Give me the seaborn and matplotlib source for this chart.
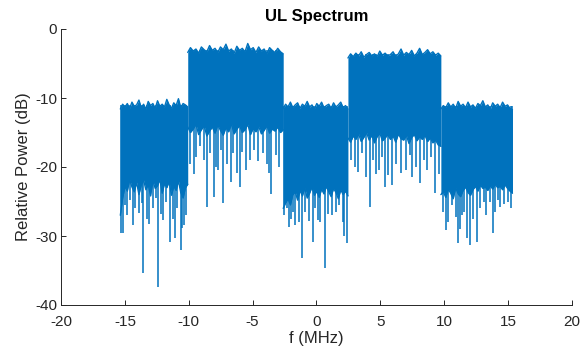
import numpy as np
import pandas as pd
import matplotlib
matplotlib.use("Agg")
import matplotlib.pyplot as plt
import seaborn as sns

# ---- data ----
band_edges = [-15.36, -10.08, -2.60, 2.47, 9.75, 15.36]   # MHz

top_A = [-11.6,-10.9,-11.3,-10.8,-11.5,-10.6,-11.2,-11.0,-10.3,-11.4,-10.9,-11.6,-10.5,-11.1,-10.8,
         -11.5,-10.4,-11.2,-10.9,-11.3,-10.2,-11.0,-11.5,-10.7,-11.1,-10.1,-11.4,-10.8,-11.0,-11.3]
bot_A = [-27.0,-24.5,-22.8,-23.5,-21.8,-22.9,-23.6,-22.2,-24.0,-22.6,-21.9,-23.3,-22.5,-24.2,-22.0,
         -23.1,-22.7,-21.8,-23.8,-22.4,-23.0,-22.1,-24.1,-22.8,-23.4,-22.0,-23.7,-24.5,-23.0,-22.5]

top_B = [-3.4,-2.7,-3.2,-2.9,-3.5,-2.6,-3.0,-3.3,-2.4,-3.1,-2.8,-3.4,-2.6,-3.0,-2.2,-3.2,-2.9,-3.5,
         -2.5,-3.1,-2.8,-3.3,-2.1,-3.0,-2.7,-3.4,-2.6,-3.2,-2.9,-3.6,-2.7,-3.1,-3.4,-2.8,-3.3,-3.6]
bot_B = [-14.2,-15.0,-14.5,-13.8,-15.3,-14.6,-14.0,-15.5,-14.8,-14.2,-15.1,-13.9,-14.7,-15.4,-14.3,-14.9,-13.7,-15.2,
         -14.5,-14.0,-15.0,-14.6,-13.8,-15.3,-14.4,-14.9,-14.1,-15.2,-14.7,-14.0,-15.1,-14.5,-14.8,-14.2,-15.0,-14.6]

top_C = [-11.5,-10.9,-11.3,-10.6,-11.4,-11.0,-10.7,-11.5,-10.9,-11.2,-10.5,-11.3,-11.0,-11.6,
         -10.8,-11.2,-10.6,-11.4,-11.1,-10.9,-11.5,-10.7,-11.3,-11.0,-10.6,-11.4,-11.1,-11.6]
bot_C = [-26.0,-25.2,-24.6,-25.5,-24.0,-23.6,-24.8,-23.4,-24.2,-23.0,-24.5,-23.8,-22.9,-24.1,
         -23.5,-24.4,-23.2,-23.9,-22.8,-23.6,-24.3,-23.1,-23.7,-24.6,-23.3,-24.0,-23.5,-24.2]

top_D = [-4.2,-3.6,-4.0,-3.5,-3.9,-3.3,-4.1,-3.7,-3.4,-3.9,-3.6,-4.0,-3.2,-3.8,-3.5,-3.9,-3.7,-3.3,
         -4.0,-3.6,-2.9,-3.8,-3.4,-3.7,-3.1,-3.9,-3.5,-2.8,-3.7,-3.4,-3.0,-3.6,-3.3,-3.8,-3.5,-3.9]
bot_D = [-15.8,-16.4,-15.5,-16.0,-15.2,-16.3,-15.7,-15.0,-16.1,-15.4,-16.5,-15.6,-15.1,-16.2,-15.8,-15.3,-16.0,-15.5,
         -16.4,-15.2,-15.9,-16.1,-15.4,-16.6,-15.7,-15.3,-16.2,-15.6,-16.0,-15.4,-16.3,-15.8,-16.5,-16.1,-16.8,-17.0]

top_E = [-11.6,-11.1,-11.4,-10.7,-11.3,-10.9,-11.5,-10.5,-11.2,-10.9,-11.4,-10.6,-11.3,-11.0,-11.5,
         -10.8,-11.1,-10.4,-11.3,-11.0,-11.6,-10.7,-11.2,-10.9,-11.4,-10.6,-11.2,-11.0,-11.5,-11.7]
bot_E = [-24.0,-23.6,-24.4,-23.2,-23.8,-24.6,-23.0,-23.9,-24.3,-23.4,-22.9,-23.7,-24.1,-23.3,-22.8,
         -23.5,-22.6,-23.1,-22.9,-23.4,-22.7,-23.2,-22.5,-23.0,-22.8,-23.3,-22.6,-23.1,-23.5,-23.8]

tops = [top_A, top_B, top_C, top_D, top_E]
bots = [bot_A, bot_B, bot_C, bot_D, bot_E]

# spectral nulls (dips below the dense band): frequency (MHz), level (dB)
dip_f = [-15.30,-15.18,-15.00,-14.80,-14.60,-14.39,-14.20,-13.88,-13.70,-13.56,-13.30,-13.09,-12.80,-12.60,
         -12.44,-12.20,-12.00,-11.80,-11.47,-11.20,-11.08,-10.90,-10.61,-10.50,-10.38,-10.20,
         -9.90,-9.60,-9.40,-9.10,-8.80,-8.55,-8.30,-8.03,-7.90,-7.71,-7.50,-7.32,-7.00,-6.72,-6.50,-6.20,
         -6.01,-5.80,-5.50,-5.20,-4.90,-4.60,-4.20,-3.90,-3.74,-3.54,-3.20,-2.90,
         -2.50,-2.30,-2.18,-2.00,-1.80,-1.68,-1.40,-1.14,-0.90,-0.60,-0.30,-0.10,0.09,0.30,0.67,0.90,
         1.20,1.53,1.80,2.05,2.20,2.39,
         2.70,3.00,3.25,3.60,3.90,4.21,4.40,4.64,4.90,5.10,5.34,5.60,5.94,6.20,6.60,7.03,7.30,7.50,
         7.77,8.13,8.40,8.70,9.00,9.33,9.60,
         9.90,10.12,10.30,10.60,10.90,11.08,11.25,11.42,11.60,11.81,12.02,12.30,12.55,12.80,13.12,
         13.30,13.60,13.84,14.00,14.20,14.42,14.70,15.00,15.25,15.30]
dip_db = [-29.5,-29.6,-25.5,-27.0,-24.8,-28.4,-26.0,-26.7,-25.2,-35.4,-27.5,-28.2,-26.0,-24.5,
          -37.4,-26.8,-27.7,-25.0,-30.9,-27.5,-30.3,-26.0,-32.0,-28.8,-28.4,-27.0,
          -19.5,-21.0,-18.5,-17.0,-19.0,-25.8,-18.0,-24.3,-20.0,-20.4,-17.5,-25.2,-19.5,-22.2,-18.0,-20.8,
          -22.9,-17.8,-20.4,-19.0,-17.5,-19.2,-18.0,-19.5,-20.9,-23.9,-18.2,-20.0,
          -27.0,-26.0,-28.7,-27.5,-26.5,-28.4,-28.0,-33.2,-26.5,-27.8,-30.9,-26.0,-27.7,-28.0,-34.6,-26.8,
          -27.0,-26.5,-25.5,-28.0,-30.0,-31.0,
          -19.0,-20.0,-20.7,-18.0,-21.5,-25.8,-19.0,-21.0,-20.5,-18.5,-22.9,-21.2,-22.6,-19.5,-20.8,-20.4,
          -18.2,-21.5,-20.0,-22.3,-19.0,-20.5,-18.5,-23.8,-21.0,
          -26.5,-29.1,-28.0,-25.5,-27.2,-31.0,-29.0,-27.0,-26.5,-30.3,-31.3,-27.5,-30.9,-26.0,-25.1,
          -27.0,-25.0,-29.6,-26.5,-24.8,-25.8,-25.3,-25.0,-25.9,-23.8]

x_ticks = [-20, -15, -10, -5, 0, 5, 10, 15, 20]
y_ticks = [-40, -30, -20, -10, 0]

# ---- styling ----
sns.set_theme(style="ticks")
plt.rcParams["font.family"] = ["Liberation Sans", "DejaVu Sans"]
blue = "#0072BD"
dark = "#262626"

fig = plt.figure(figsize=(5.81, 3.54), dpi=100)
ax = fig.add_axes([61.1 / 581, 1 - 305 / 354, 510.6 / 581, 276 / 354])

rows = []
for i, (t, b) in enumerate(zip(tops, bots)):
    xs = np.linspace(band_edges[i], band_edges[i + 1], len(t))
    ax.fill_between(xs, b, t, color=blue, linewidth=0, zorder=2)
    for xv, tv, bv in zip(xs, t, b):
        rows.append({"f": xv, "top": tv, "bot": bv, "band": i})
df = pd.DataFrame(rows)
for i in range(5):
    sub = df[df["band"] == i]
    sns.lineplot(data=sub, x="f", y="top", ax=ax, color=blue, lw=1.0, estimator=None, sort=False, zorder=3)
    sns.lineplot(data=sub, x="f", y="bot", ax=ax, color=blue, lw=1.0, estimator=None, sort=False, zorder=3)

# dips as vertical strokes from the band's top down to the null level
def band_top(f):
    for i in range(5):
        if band_edges[i] <= f <= band_edges[i + 1]:
            return float(np.mean(tops[i]))
    return -11.0

ax.vlines(dip_f, dip_db, [band_top(f) for f in dip_f], color=blue, lw=1.1, zorder=3)

ax.set_xlim(-20, 20)
ax.set_ylim(-40, 0)
ax.set_xticks(x_ticks)
ax.set_yticks(y_ticks)
ax.set_xticklabels([str(v) for v in x_ticks])
ax.set_yticklabels([str(v) for v in y_ticks])
ax.tick_params(direction="in", length=3.5, width=0.7, colors=dark, labelsize=11)
ax.tick_params(axis="x", pad=7)
ax.tick_params(axis="y", pad=3)
for side in ["top", "right"]:
    ax.spines[side].set_visible(False)
for side in ["left", "bottom"]:
    ax.spines[side].set_color(dark)
    ax.spines[side].set_linewidth(0.7)

ax.set_title("UL Spectrum", fontsize=12, fontweight="bold", color="black", pad=6)
ax.set_xlabel("f (MHz)", fontsize=12, color=dark, labelpad=2)
ax.set_ylabel("Relative Power (dB)", fontsize=12, color=dark, labelpad=3)

fig.savefig("out.png", dpi=100)
